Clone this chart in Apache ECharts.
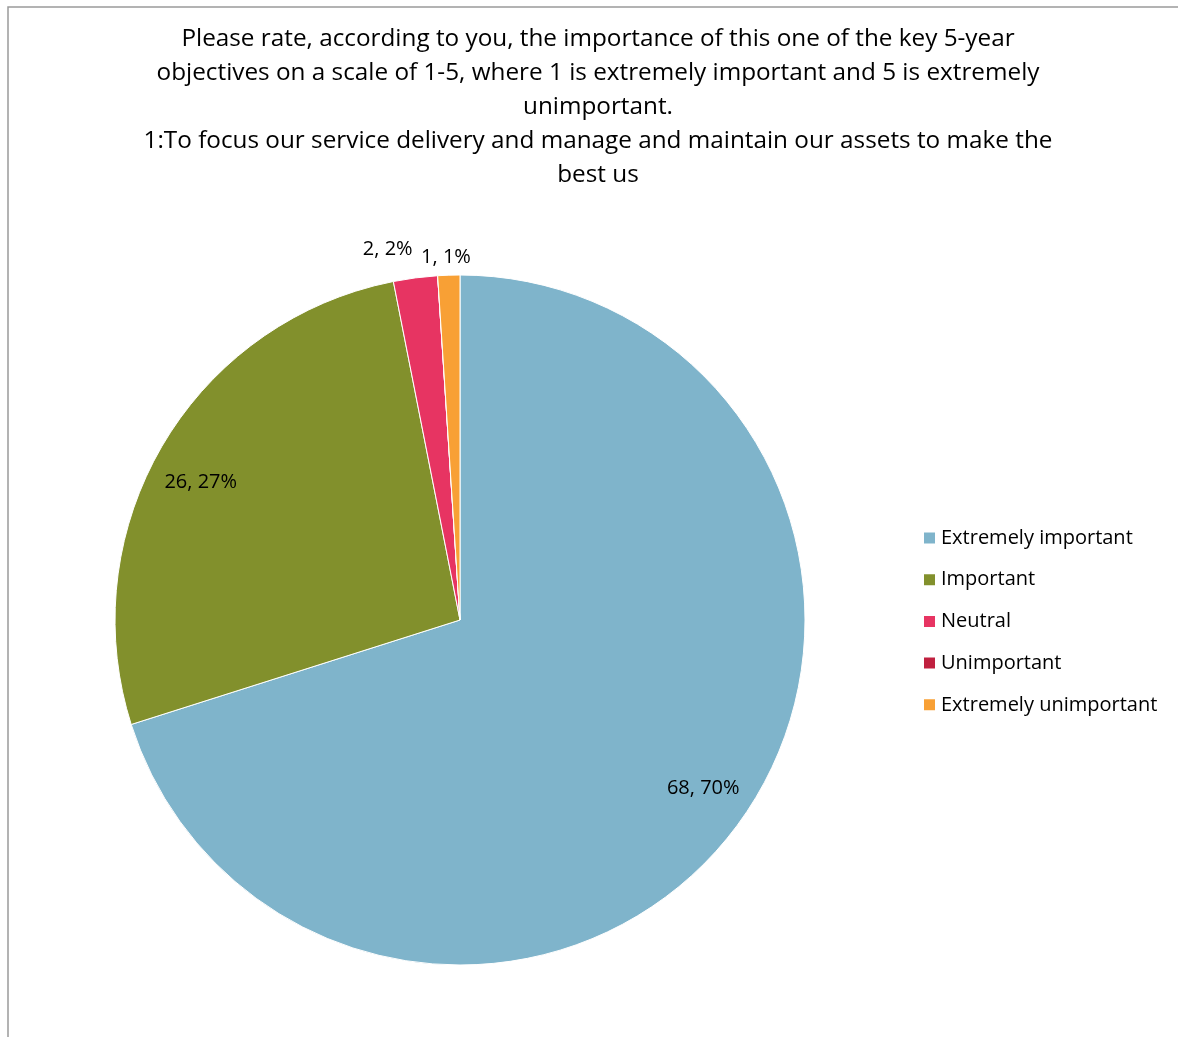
<!DOCTYPE html>
<html>
<head>
<meta charset="utf-8">
<title>Key 5-year objective rating</title>
<script src="https://cdn.jsdelivr.net/npm/echarts@6/dist/echarts.min.js"></script>
<style>
  html, body { margin: 0; padding: 0; background: #fff; }
  #chart { width: 1178px; height: 1037px; }
</style>
</head>
<body>
<div id="chart"></div>
<script>
// Survey answers for objective 1
const categories = ['Extremely important', 'Important', 'Neutral', 'Unimportant', 'Extremely unimportant'];
const counts = [68, 26, 2, 0, 1];
const colors = ['#7FB4CB', '#82902C', '#E73462', '#C0203F', '#F8A035'];

const titleLines = [
  'Please rate, according to you, the importance of this one of the key 5-year',
  'objectives on a scale of 1-5, where 1 is extremely important and 5 is extremely',
  'unimportant.',
  '1:To focus our service delivery and manage and maintain our assets to make the',
  'best us'
];

const FONT = '"Open Sans", "Noto Sans", sans-serif';
const CX = 460, CY = 620, R = 345;
// radial placement of each value label, as a fraction of the pie radius
const labelRadius = [0.855, 0.855, 1.087, 1, 1.055];
// fine nudges for the value labels
const labelNudgeX = [1, -1, -23, 0, -2];
const labelNudgeY = [-9, 15, 8, 0, 7];

const chart = echarts.init(document.getElementById('chart'));

const pieData = categories.map((name, i) => ({
  name: name,
  value: counts[i],
  itemStyle: { color: colors[i] },
  label: { show: counts[i] > 0 }
}));

chart.setOption({
  animation: false,
  backgroundColor: '#fff',
  graphic: [{
    type: 'rect',
    shape: { x: 8, y: 7, width: 1400, height: 1400 },
    style: { fill: 'none', stroke: '#9a9a9a', lineWidth: 1.5 },
    silent: true
  }],
  title: {
    text: titleLines.join('\n'),
    left: 593,
    textAlign: 'center',
    top: 17,
    textStyle: {
      fontFamily: FONT,
      fontSize: 24.3,
      fontWeight: 'normal',
      color: '#000',
      lineHeight: 34
    }
  },
  legend: {
    orient: 'vertical',
    left: 917,
    top: 523,
    icon: 'rect',
    itemWidth: 13,
    itemHeight: 13,
    itemGap: 21.7,
    data: categories,
    textStyle: {
      fontFamily: FONT,
      fontSize: 20,
      color: '#000',
      lineHeight: 20
    }
  },
  series: [{
    type: 'pie',
    center: [CX, CY],
    radius: [0, R],
    startAngle: 90,
    clockwise: true,
    percentPrecision: 0,
    silent: true,
    data: pieData,
    itemStyle: { borderColor: '#fff', borderWidth: 1 },
    label: {
      position: 'inside',
      formatter: '{c}, {d}%',
      fontFamily: FONT,
      fontSize: 20,
      color: '#000'
    },
    labelLine: { show: false },
    labelLayout: function (p) {
      const i = p.dataIndex;
      const lr = p.labelRect;
      const lx = lr.x + lr.width / 2;
      const ly = lr.y + lr.height / 2;
      // inside labels start at half the radius; push them out along the same angle
      const k = labelRadius[i] / 0.5;
      return {
        dx: (lx - CX) * (k - 1) + labelNudgeX[i],
        dy: (ly - CY) * (k - 1) + labelNudgeY[i]
      };
    }
  }]
});
</script>
</body>
</html>
